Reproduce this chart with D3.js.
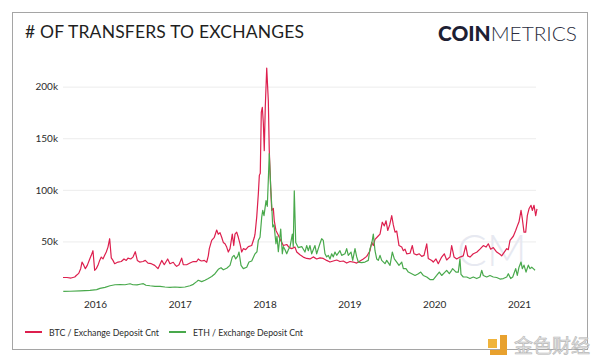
<!DOCTYPE html>
<html>
<head>
<meta charset="utf-8">
<script src="https://cdn.jsdelivr.net/npm/d3@7"></script>
<style>
  body { margin: 0; background: #fff; }
  svg text { font-family: Lato, "Open Sans", sans-serif; }
</style>
</head>
<body>
<svg id="chart"></svg>
<script>
// [decimal year, deposits in thousands]
const btcSeries = [
  [2015.623, 15], [2015.670, 15], [2015.717, 14.5], [2015.761, 15.5], [2015.779, 17], [2015.808, 19],
  [2015.831, 23.6], [2015.847, 30], [2015.867, 27], [2015.886, 23.6], [2015.909, 26.8], [2015.938, 33],
  [2015.956, 36.5], [2015.976, 41], [2015.996, 22], [2016.015, 23.6], [2016.035, 26.8], [2016.055, 31.6],
  [2016.074, 34.8], [2016.094, 33], [2016.114, 36.5], [2016.133, 39.7], [2016.153, 44.5], [2016.173, 52.6],
  [2016.192, 34], [2016.212, 31.6], [2016.232, 28.4], [2016.271, 30], [2016.310, 30.5], [2016.342, 33],
  [2016.369, 31.6], [2016.389, 33.8], [2016.421, 33], [2016.448, 34.8], [2016.475, 40], [2016.499, 31.6],
  [2016.527, 30], [2016.566, 30.5], [2016.593, 31.6], [2016.625, 29], [2016.664, 28.4], [2016.704, 26.8],
  [2016.743, 23.6], [2016.787, 31.6], [2016.817, 27.4], [2016.857, 33], [2016.884, 28.4], [2016.923, 29.8],
  [2016.943, 27.4], [2016.963, 25.8], [2016.991, 27.4], [2017.022, 33.8], [2017.041, 27.4], [2017.081, 27.4],
  [2017.120, 29], [2017.159, 30.5], [2017.199, 30.5], [2017.218, 33], [2017.238, 31.6], [2017.258, 31],
  [2017.289, 31.6], [2017.317, 29.8], [2017.336, 36], [2017.348, 43], [2017.376, 51], [2017.407, 54],
  [2017.435, 61], [2017.454, 57], [2017.474, 58.5], [2017.494, 54], [2017.513, 49], [2017.533, 47.7],
  [2017.553, 44.5], [2017.572, 39.7], [2017.592, 43], [2017.619, 57], [2017.636, 46], [2017.651, 57],
  [2017.671, 59], [2017.690, 54], [2017.710, 47.7], [2017.730, 39.7], [2017.749, 43], [2017.777, 42],
  [2017.808, 45], [2017.848, 46], [2017.879, 54], [2017.887, 57], [2017.907, 73.5], [2017.926, 96],
  [2017.938, 114], [2017.949, 116], [2017.961, 175], [2017.973, 180], [2017.985, 165], [2017.996, 138],
  [2018.008, 180], [2018.025, 218], [2018.044, 186], [2018.055, 138], [2018.072, 102], [2018.084, 80],
  [2018.103, 82], [2018.114, 70], [2018.134, 60.6], [2018.162, 56], [2018.190, 51], [2018.221, 46],
  [2018.261, 47], [2018.291, 44], [2018.320, 43], [2018.358, 44.5], [2018.379, 39.7], [2018.417, 37],
  [2018.456, 34.8], [2018.496, 33.5], [2018.535, 33], [2018.574, 35], [2018.614, 33], [2018.653, 34],
  [2018.692, 33.5], [2018.732, 31.6], [2018.771, 30], [2018.810, 31], [2018.850, 32], [2018.889, 30.5],
  [2018.928, 31], [2018.968, 29], [2019.007, 30.5], [2019.046, 30], [2019.086, 29], [2019.125, 31],
  [2019.164, 33], [2019.204, 35.5], [2019.243, 41], [2019.263, 49], [2019.282, 46], [2019.302, 52],
  [2019.337, 55], [2019.361, 57], [2019.388, 68.6], [2019.412, 65], [2019.432, 70], [2019.452, 60.6],
  [2019.475, 66], [2019.499, 75], [2019.518, 66], [2019.538, 59], [2019.558, 60], [2019.585, 46],
  [2019.617, 44.5], [2019.636, 41], [2019.656, 42.5], [2019.676, 38], [2019.715, 38.5], [2019.742, 46],
  [2019.762, 38], [2019.794, 37], [2019.824, 38], [2019.853, 35.5], [2019.880, 36.5], [2019.912, 47.7],
  [2019.930, 33.5], [2019.971, 31.5], [2019.989, 30], [2020.021, 33], [2020.048, 28.4], [2020.088, 34.8],
  [2020.119, 38], [2020.147, 32], [2020.186, 35], [2020.206, 46], [2020.234, 34.8], [2020.265, 33],
  [2020.304, 34.8], [2020.343, 36], [2020.372, 46], [2020.395, 36], [2020.422, 34.8], [2020.461, 38],
  [2020.501, 39.5], [2020.540, 42.5], [2020.579, 46], [2020.611, 44.5], [2020.638, 47.7], [2020.666, 42.5],
  [2020.697, 44], [2020.737, 39.7], [2020.776, 37.5], [2020.796, 36], [2020.827, 39.7], [2020.855, 43],
  [2020.874, 42], [2020.894, 51], [2020.933, 55], [2020.961, 60.6], [2020.985, 66], [2021.000, 69],
  [2021.024, 80], [2021.039, 72], [2021.059, 59], [2021.079, 59], [2021.098, 75], [2021.118, 81.6],
  [2021.142, 85], [2021.157, 80], [2021.177, 85], [2021.197, 75], [2021.212, 81.6]
];

const ethSeries = [
  [2015.626, 1.6], [2015.705, 1.7], [2015.823, 2], [2015.941, 2.5], [2016.020, 3.3], [2016.059, 4.5],
  [2016.118, 5.5], [2016.177, 7], [2016.236, 8], [2016.295, 8.2], [2016.354, 8], [2016.413, 9],
  [2016.448, 8], [2016.495, 7.8], [2016.531, 8.5], [2016.570, 9], [2016.601, 7.5], [2016.649, 7],
  [2016.708, 6.5], [2016.767, 6.5], [2016.825, 5.8], [2016.884, 5.5], [2016.943, 5.8], [2017.002, 5.5],
  [2017.061, 5.8], [2017.120, 7], [2017.159, 8.4], [2017.199, 11], [2017.218, 12.3], [2017.258, 11],
  [2017.297, 12.3], [2017.336, 14], [2017.376, 16], [2017.415, 18.7], [2017.454, 23], [2017.486, 24.5],
  [2017.513, 22.5], [2017.553, 24], [2017.592, 26.8], [2017.619, 34.8], [2017.639, 36.5], [2017.659, 33],
  [2017.683, 35.8], [2017.698, 39.7], [2017.722, 26.8], [2017.749, 23.6], [2017.789, 25], [2017.816, 30],
  [2017.848, 31], [2017.887, 38], [2017.910, 40], [2017.926, 51], [2017.946, 54], [2017.966, 73.5],
  [2017.978, 80], [2017.993, 75], [2018.017, 89.6], [2018.032, 84], [2018.044, 110], [2018.055, 135],
  [2018.072, 102], [2018.084, 85], [2018.096, 64], [2018.111, 66], [2018.134, 47.7], [2018.146, 55],
  [2018.162, 40], [2018.190, 62], [2018.209, 38], [2018.221, 45], [2018.241, 42], [2018.261, 38],
  [2018.280, 42], [2018.300, 45], [2018.327, 57], [2018.338, 45], [2018.350, 99], [2018.367, 49],
  [2018.397, 44], [2018.438, 45], [2018.476, 39.7], [2018.496, 46], [2018.515, 41], [2018.535, 46],
  [2018.555, 38], [2018.574, 42], [2018.594, 46], [2018.614, 38], [2018.633, 43], [2018.653, 48],
  [2018.673, 52.6], [2018.692, 51], [2018.712, 38], [2018.732, 35], [2018.751, 36.5], [2018.771, 33],
  [2018.791, 38], [2018.810, 35], [2018.830, 39.7], [2018.850, 36.5], [2018.889, 41], [2018.909, 36.5],
  [2018.948, 38], [2018.968, 43], [2018.987, 36.5], [2019.019, 39.7], [2019.039, 31.6], [2019.066, 43],
  [2019.086, 35], [2019.105, 30], [2019.145, 29.5], [2019.184, 30], [2019.223, 31.6], [2019.243, 43],
  [2019.263, 47.7], [2019.282, 57], [2019.302, 41], [2019.322, 33], [2019.341, 31.6], [2019.361, 36.5],
  [2019.381, 31.6], [2019.420, 28.4], [2019.440, 31.6], [2019.479, 26.8], [2019.506, 39.7], [2019.530, 33],
  [2019.558, 30], [2019.585, 26.8], [2019.617, 30], [2019.636, 23.6], [2019.667, 23.6], [2019.695, 20.3],
  [2019.735, 18.7], [2019.774, 17], [2019.813, 18.7], [2019.841, 20.3], [2019.871, 17], [2019.912, 15.5],
  [2019.950, 13], [2019.989, 13], [2020.029, 17], [2020.060, 20.3], [2020.088, 17], [2020.127, 20.3],
  [2020.147, 22], [2020.178, 18.7], [2020.206, 22], [2020.217, 23.6], [2020.257, 20.3], [2020.284, 20.3],
  [2020.304, 33], [2020.316, 18], [2020.343, 15.5], [2020.383, 15.5], [2020.422, 14], [2020.461, 15.5],
  [2020.501, 14], [2020.540, 15.5], [2020.560, 22], [2020.579, 17], [2020.619, 15.5], [2020.658, 17],
  [2020.697, 15.5], [2020.737, 15], [2020.776, 13.5], [2020.815, 14], [2020.855, 15.5], [2020.874, 18.7],
  [2020.902, 14], [2020.926, 15.5], [2020.961, 23.6], [2020.980, 17], [2021.000, 25], [2021.024, 30],
  [2021.039, 23.6], [2021.059, 27], [2021.083, 20.3], [2021.110, 27], [2021.130, 23.6], [2021.150, 25],
  [2021.169, 23.6], [2021.189, 22]
];

const yTicks = [50, 100, 150, 200];
const xTicks = [2016, 2017, 2018, 2019, 2020, 2021];
const seriesNames = ["BTC / Exchange Deposit Cnt", "ETH / Exchange Deposit Cnt"];
const seriesColors = ["#dd1f4e", "#49a94c"];
const titleText = "# OF TRANSFERS TO EXCHANGES";

class Lineplot {
    margin = { top: 66, right: 64, bottom: 70, left: 63 };

    constructor(svg, width = 600, height = 363) {
        this.svg = d3.select(svg);
        this.width = width - this.margin.left - this.margin.right;
        this.height = height - this.margin.top - this.margin.bottom;
        this.svg.attr("width", width).attr("height", height);
    }

    initialize() {
        // outer frame
        this.svg.append("rect")
            .attr("x", 12.5).attr("y", 12.5)
            .attr("width", 575).attr("height", 337)
            .attr("fill", "none")
            .attr("stroke", "#a5a5a5");

        this.svg.append("text")
            .attr("x", 25).attr("y", 38)
            .attr("textLength", 279)
            .style("font-size", "17.5px")
            .style("fill", "#1f1f1f")
            .text(titleText);

        const logo = this.svg.append("text")
            .attr("x", 438).attr("y", 41)
            .attr("textLength", 139)
            .attr("lengthAdjust", "spacingAndGlyphs")
            .style("font-size", "20px")
            .style("fill", "#1d2033");
        logo.append("tspan").style("font-weight", 900).text("COIN");
        logo.append("tspan").style("font-weight", 300).style("fill", "#2a2d40").text("METRICS");

        this.g = this.svg.append("g")
            .attr("transform", `translate(${this.margin.left}, ${this.margin.top})`);

        this.xScale = d3.scaleLinear().domain([2016, 2021]).range([32, 456]);
        this.yScale = d3.scaleLinear().domain([0, 220]).range([this.height, 0]);

        this.yAxis = this.g.append("g").attr("class", "y-axis")
            .call(d3.axisLeft(this.yScale).tickValues(yTicks)
                .tickSize(-this.width).tickPadding(5).tickFormat(d => d + "k"));
        this.yAxis.select(".domain").remove();
        this.yAxis.selectAll("line").attr("stroke", "#ececec");
        this.yAxis.selectAll("text").style("font-size", "10px").style("fill", "#2b2b2b");

        this.xAxis = this.g.append("g").attr("class", "x-axis")
            .attr("transform", `translate(0, ${this.height})`)
            .call(d3.axisBottom(this.xScale).tickValues(xTicks)
                .tickSize(0).tickPadding(8).tickFormat(d3.format("d")));
        this.xAxis.select(".domain").remove();
        this.xAxis.selectAll("text").style("font-size", "10px").style("fill", "#2b2b2b");

        // faint CM watermark
        this.g.append("text")
            .attr("x", this.xScale(2020.27)).attr("y", 200)
            .style("font-size", "44px")
            .style("font-weight", 300)
            .style("fill", "#e7e9f1")
            .text("CM");

        this.line = d3.line()
            .x(d => this.xScale(d[0]))
            .y(d => this.yScale(d[1]));

        [btcSeries, ethSeries].forEach((s, i) => {
            this.g.append("path")
                .datum(s)
                .attr("fill", "none")
                .attr("stroke", seriesColors[i])
                .attr("stroke-width", 1.2)
                .attr("stroke-linejoin", "round")
                .attr("d", this.line);
        });

        const legend = this.svg.append("g").attr("transform", "translate(25, 332)");
        const legendX = [0, 144];
        seriesNames.forEach((name, i) => {
            legend.append("line")
                .attr("x1", legendX[i]).attr("x2", legendX[i] + 17)
                .attr("stroke", seriesColors[i]).attr("stroke-width", 2);
            legend.append("text")
                .attr("x", legendX[i] + 24).attr("y", 3.5)
                .attr("textLength", 110)
                .attr("lengthAdjust", "spacingAndGlyphs")
                .style("font-size", "10px").style("fill", "#2b2b2b")
                .text(name);
        });

        // site watermark
        const wm = this.svg.append("g").attr("transform", "translate(488, 335)");
        wm.append("rect").attr("x", 0).attr("y", 4).attr("width", 9).attr("height", 9).attr("fill", "#f0b43c");
        wm.append("path").attr("d", "M12 0 h7 v20 h-17 v-5 h10 z").attr("fill", "#e8a12e");
        wm.append("text")
            .attr("x", 26).attr("y", 18)
            .style("font-family", "'Noto Sans CJK SC'")
            .style("font-size", "19px")
            .style("fill", "#e2e2e2")
            .style("stroke", "#b8b8b8")
            .style("stroke-width", 0.6)
            .text("金色财经");
    }
}

const chart = new Lineplot("#chart");
chart.initialize();
</script>
</body>
</html>
